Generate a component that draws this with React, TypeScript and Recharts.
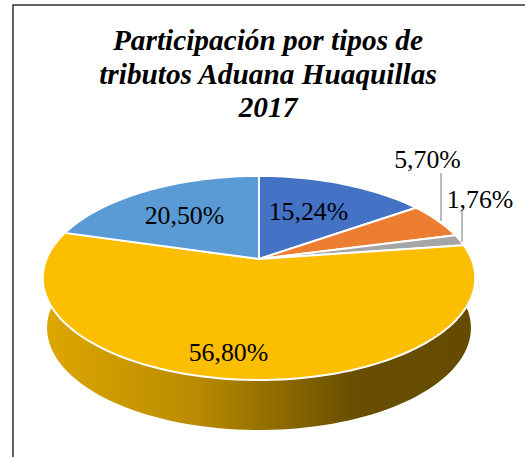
import { PieChart, Pie, Cell } from 'recharts'

const NAMES = ['Tributo 1', 'Tributo 2', 'Tributo 3', 'Tributo 4', 'Tributo 5']
const VALUES = [15.24, 5.7, 1.76, 56.8, 20.5]
const COLORS = ['#4472C4', '#ED7D31', '#A5A5A5', '#FBBE00', '#5B9BD5']
const TITLE = ['Participación por tipos de', 'tributos Aduana Huaquillas', '2017']

const pieData = NAMES.map((name, i) => ({ name, value: VALUES[i] }))

// tilt of the 3D pie, fitted from the picture
const RX = 212.5
const RY = 98.5
const PERSP = 0.186
const DEPTH = 50
const SERIF = '"Liberation Serif", "Times New Roman", serif'

// where the data labels sit, by slice index, plus an optional leader line
const LABEL_AT = [
  { x: 308.5, y: 220 },
  { x: 427.5, y: 168, line: [441, 173, 441, 221] },
  { x: 480, y: 208, line: [462, 211, 462, 242] },
  { x: 228.5, y: 361 },
  { x: 184.5, y: 224 },
]

function project(angle: number) {
  const t = ((90 - angle) * Math.PI) / 180
  const w = 1 + PERSP * Math.cos(t)
  return { x: (RX * Math.sin(t)) / w, y: (-RY * Math.cos(t)) / w }
}

function rim(startAngle: number, endAngle: number) {
  const n = Math.max(2, Math.ceil(Math.abs(endAngle - startAngle) / 2))
  const pts = []
  for (let i = 0; i <= n; i++) pts.push(project(startAngle + ((endAngle - startAngle) * i) / n))
  return pts
}

function TopSlice(props: any) {
  const { cx, cy, startAngle, endAngle, fill } = props
  const pts = rim(startAngle, endAngle)
  const d = `M${cx},${cy} ` + pts.map(p => `L${cx + p.x},${cy + p.y}`).join(' ') + ' Z'
  return <path d={d} fill={fill} stroke="#fff" strokeWidth={2} strokeLinejoin="round" />
}

function WallSlice(props: any) {
  const { cx, cy, startAngle, endAngle, index } = props
  const pts = rim(startAngle, endAngle)
  const top = pts.map(p => `${cx + p.x},${cy + p.y}`)
  const bottom = pts.map(p => `${cx + p.x * 0.98},${cy + p.y + DEPTH}`).reverse()
  const d = 'M' + top.concat(bottom).join(' L') + ' Z'
  return (
    <g>
      {index === 0 && (
        <defs>
          <linearGradient id="wall" gradientUnits="userSpaceOnUse" x1={45} y1={0} x2={475} y2={0}>
            <stop offset="0" stopColor="#DDA700" />
            <stop offset="0.35" stopColor="#B98B00" />
            <stop offset="0.72" stopColor="#684E00" />
            <stop offset="1" stopColor="#644B00" />
          </linearGradient>
        </defs>
      )}
      <path d={d} fill="url(#wall)" stroke="none" />
    </g>
  )
}

function SliceLabel(props: any) {
  const at = LABEL_AT[props.index]
  const text = VALUES[props.index].toFixed(2).replace('.', ',') + '%'
  return (
    <g>
      {at.line && (
        <line x1={at.line[0]} y1={at.line[1]} x2={at.line[2]} y2={at.line[3]} stroke="#A6A6A6" strokeWidth={1.5} />
      )}
      <text x={at.x} y={at.y} textAnchor="middle" fontFamily={SERIF} fontSize={25.8} fill="#000">
        {text}
      </text>
    </g>
  )
}

export default function App() {
  return (
    <div style={{ position: 'absolute', left: 0, top: 0, width: 525, height: 457, overflow: 'hidden', background: '#fff' }}>
      <PieChart width={525} height={457} margin={{ top: 0, right: 0, bottom: 0, left: 0 }}>
        <rect x={13} y={5} width={700} height={700} fill="#fff" stroke="#333" strokeWidth={1.5} />
        {TITLE.map((line, i) => (
          <text
            key={line}
            x={268}
            y={50 + i * 33.6}
            textAnchor="middle"
            fontFamily={SERIF}
            fontSize={29.3}
            fontWeight="bold"
            fontStyle="italic"
            fill="#000"
          >
            {line}
          </text>
        ))}
        <Pie
          data={pieData}
          dataKey="value"
          cx={259}
          cy={259}
          outerRadius={100}
          startAngle={90}
          endAngle={-270}
          shape={WallSlice}
          isAnimationActive={false}
        />
        <Pie
          data={pieData}
          dataKey="value"
          cx={259}
          cy={259}
          outerRadius={100}
          startAngle={90}
          endAngle={-270}
          shape={TopSlice}
          label={SliceLabel}
          labelLine={false}
          isAnimationActive={false}
        >
          {pieData.map((_, i) => (
            <Cell key={i} fill={COLORS[i]} />
          ))}
        </Pie>
      </PieChart>
    </div>
  )
}
